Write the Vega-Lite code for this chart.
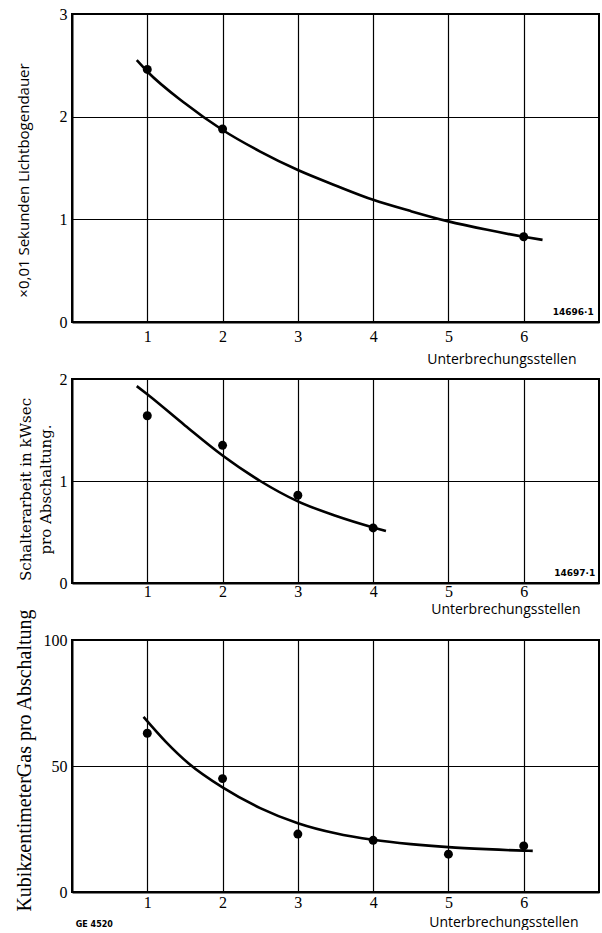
{
  "$schema": "https://vega.github.io/schema/vega-lite/v6.json",
  "autosize": {"type": "pad"},
  "padding": {"left": 12, "top": 5, "right": 0, "bottom": 0},
  "background": "white",
  "bounds": "flush",
  "spacing": 57,
  "datasets": {
    "p1pts": [{"x": 1, "y": 2.46}, {"x": 2, "y": 1.88}, {"x": 6, "y": 0.83}],
    "p1curve": [{"x": 0.86, "y": 2.55}, {"x": 1, "y": 2.44}, {"x": 1.5, "y": 2.13}, {"x": 2, "y": 1.87}, {"x": 2.5, "y": 1.66}, {"x": 3, "y": 1.48}, {"x": 3.5, "y": 1.33}, {"x": 4, "y": 1.19}, {"x": 4.5, "y": 1.08}, {"x": 5, "y": 0.98}, {"x": 5.5, "y": 0.9}, {"x": 6, "y": 0.83}, {"x": 6.25, "y": 0.8}],
    "p1note": [{"x": 6.93, "y": 0.05, "t": "14696·1"}],
    "p2pts": [{"x": 1, "y": 1.64}, {"x": 2, "y": 1.35}, {"x": 3, "y": 0.86}, {"x": 4, "y": 0.54}],
    "p2curve": [{"x": 0.86, "y": 1.93}, {"x": 1, "y": 1.85}, {"x": 1.5, "y": 1.545}, {"x": 2, "y": 1.25}, {"x": 2.5, "y": 1.0}, {"x": 3, "y": 0.8}, {"x": 3.5, "y": 0.66}, {"x": 4, "y": 0.545}, {"x": 4.17, "y": 0.51}],
    "p2note": [{"x": 6.95, "y": 0.05, "t": "14697·1"}],
    "p3pts": [{"x": 1, "y": 63}, {"x": 2, "y": 45}, {"x": 3, "y": 23}, {"x": 4, "y": 20.5}, {"x": 5, "y": 15}, {"x": 6, "y": 18.3}],
    "p3curve": [{"x": 0.95, "y": 69.5}, {"x": 1.25, "y": 59.5}, {"x": 1.55, "y": 51}, {"x": 2, "y": 41.5}, {"x": 2.5, "y": 33.3}, {"x": 3, "y": 27.3}, {"x": 3.5, "y": 23.3}, {"x": 4, "y": 20.7}, {"x": 4.5, "y": 19}, {"x": 5, "y": 17.8}, {"x": 5.5, "y": 17}, {"x": 6, "y": 16.4}, {"x": 6.12, "y": 16.3}],
    "p3note": [{"x": 0.05, "y": -13, "t": "GE 4520"}]
  },
  "config": {
    "view": {"stroke": "black", "strokeWidth": 2},
    "axis": {
      "grid": true, "gridColor": "black", "gridWidth": 1.2, "gridOpacity": 1,
      "domainColor": "black", "domainWidth": 2, "ticks": false,
      "labelColor": "black", "labelFont": "Liberation Serif", "labelFontSize": 16,
      "titleColor": "black", "titleFontWeight": "normal"
    }
  },
  "vconcat": [
    {
      "width": 527, "height": 308,
      "encoding": {
        "x": {"field": "x", "type": "quantitative", "scale": {"domain": [0, 7], "nice": false},
          "axis": {"values": [1, 2, 3, 4, 5, 6], "labelPadding": 6, "title": "Unterbrechungsstellen",
            "titleFont": "Open Sans", "titleFontSize": 14, "titleX": 504, "titleAlign": "right", "titleY": 37, "titleBaseline": "middle"}},
        "y": {"field": "y", "type": "quantitative", "scale": {"domain": [0, 3], "nice": false},
          "axis": {"values": [0, 1, 2, 3], "format": "~g", "labelPadding": 5, "title": "×0,01 Sekunden Lichtbogendauer",
            "titleFont": "Open Sans", "titleFontSize": 15, "titleX": -44, "titleY": 166, "titleBaseline": "alphabetic"}}
      },
      "layer": [
        {"data": {"name": "p1curve"}, "mark": {"type": "line", "color": "black", "strokeWidth": 2.6, "interpolate": "monotone"}},
        {"data": {"name": "p1pts"}, "mark": {"type": "point", "filled": true, "color": "black", "opacity": 1, "size": 80}},
        {"data": {"name": "p1note"}, "mark": {"type": "text", "align": "right", "baseline": "bottom", "font": "DejaVu Sans", "fontWeight": "bold", "fontSize": 9, "color": "black"}, "encoding": {"text": {"field": "t"}}}
      ]
    },
    {
      "width": 527, "height": 204,
      "encoding": {
        "x": {"field": "x", "type": "quantitative", "scale": {"domain": [0, 7], "nice": false},
          "axis": {"values": [1, 2, 3, 4, 5, 6], "labelPadding": 0, "title": "Unterbrechungsstellen",
            "titleFont": "Open Sans", "titleFontSize": 14, "titleX": 508, "titleAlign": "right", "titleY": 26, "titleBaseline": "middle"}},
        "y": {"field": "y", "type": "quantitative", "scale": {"domain": [0, 2], "nice": false},
          "axis": {"values": [0, 1, 2], "format": "~g", "labelPadding": 5, "title": ["Schalterarbeit in kWsec", "pro Abschaltung."],
            "titleFont": "DejaVu Serif", "titleFontSize": 15, "titleLineHeight": 20, "titleX": -42, "titleY": 110, "titleBaseline": "alphabetic"}}
      },
      "layer": [
        {"data": {"name": "p2curve"}, "mark": {"type": "line", "color": "black", "strokeWidth": 2.6, "interpolate": "monotone"}},
        {"data": {"name": "p2pts"}, "mark": {"type": "point", "filled": true, "color": "black", "opacity": 1, "size": 80}},
        {"data": {"name": "p2note"}, "mark": {"type": "text", "align": "right", "baseline": "bottom", "font": "DejaVu Sans", "fontWeight": "bold", "fontSize": 9, "color": "black"}, "encoding": {"text": {"field": "t"}}}
      ]
    },
    {
      "width": 527, "height": 252,
      "encoding": {
        "x": {"field": "x", "type": "quantitative", "scale": {"domain": [0, 7], "nice": false},
          "axis": {"values": [1, 2, 3, 4, 5, 6], "labelPadding": 2, "title": "Unterbrechungsstellen",
            "titleFont": "Open Sans", "titleFontSize": 14, "titleX": 506, "titleAlign": "right", "titleY": 30, "titleBaseline": "middle"}},
        "y": {"field": "y", "type": "quantitative", "scale": {"domain": [0, 100], "nice": false},
          "axis": {"values": [0, 50, 100], "format": "d", "labelPadding": 5, "title": "KubikzentimeterGas pro Abschaltung",
            "titleFont": "Liberation Serif", "titleFontSize": 20, "titleX": -42, "titleY": 120, "titleBaseline": "alphabetic"}}
      },
      "layer": [
        {"data": {"name": "p3curve"}, "mark": {"type": "line", "color": "black", "strokeWidth": 2.6, "interpolate": "monotone"}},
        {"data": {"name": "p3pts"}, "mark": {"type": "point", "filled": true, "color": "black", "opacity": 1, "size": 80}},
        {"data": {"name": "p3note"}, "mark": {"type": "text", "align": "left", "baseline": "middle", "font": "DejaVu Sans", "fontWeight": "bold", "fontSize": 8, "color": "black", "clip": false}, "encoding": {"text": {"field": "t"}}}
      ]
    }
  ]
}
